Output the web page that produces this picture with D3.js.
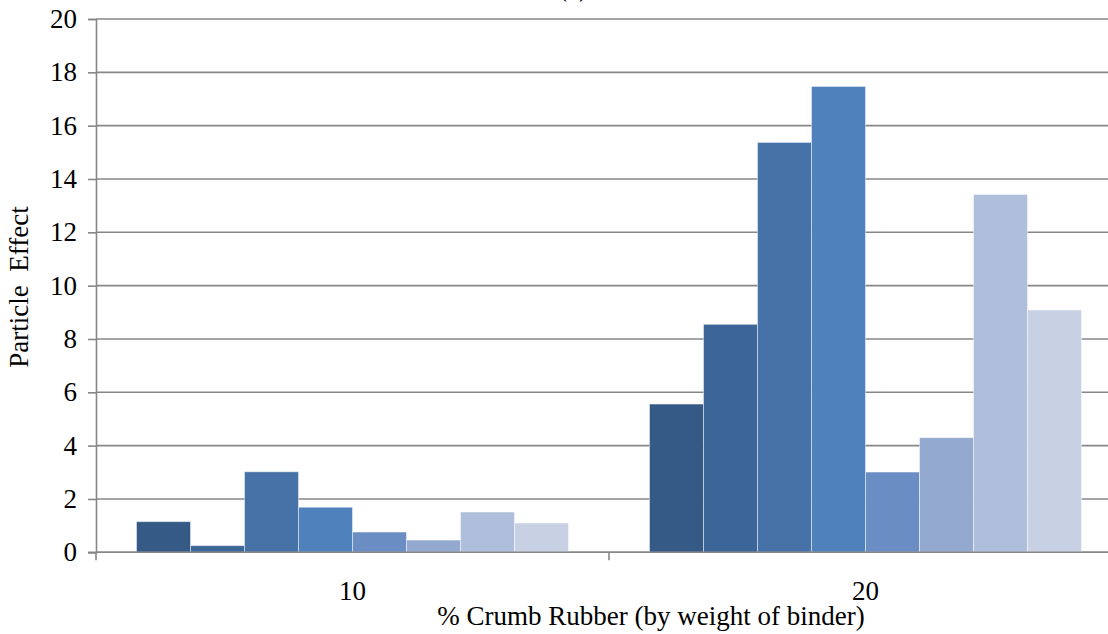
<!DOCTYPE html>
<html>
<head>
<meta charset="utf-8">
<script src="https://cdn.jsdelivr.net/npm/d3@7/dist/d3.min.js"></script>
<style>
  html, body { margin: 0; padding: 0; background: #fff; }
  svg { display: block; }
  text { font-family: "Liberation Serif", "Times New Roman", serif; fill: #000; }
</style>
</head>
<body>
<svg id="chart" width="1108" height="634"></svg>
<script>
// Crumb rubber content (% by weight of binder)
const categories = ["10", "20"];
// Eight particle series, one value per rubber content
const seriesNames = ["S1", "S2", "S3", "S4", "S5", "S6", "S7", "S8"];
const valuesAt10 = [1.15, 0.25, 3.02, 1.69, 0.76, 0.46, 1.51, 1.10];
const valuesAt20 = [5.56, 8.55, 15.37, 17.47, 3.01, 4.30, 13.42, 9.09];
const seriesColors = ["#365a86", "#3d6698", "#4672a7", "#4f81bd",
                      "#6a8ec3", "#94a9cf", "#afbfdb", "#c8d0e3"];
const yTicks = [0, 2, 4, 6, 8, 10, 12, 14, 16, 18, 20];

const valuesByCategory = [valuesAt10, valuesAt20];
const fontSize = 27;

const svg = d3.select("#chart");
const plotLeft = 96, plotTop = 19, plotBottom = 552.3, plotRight = 1122;

const x = d3.scaleBand().domain(categories).range([plotLeft, plotRight]).paddingInner(0).paddingOuter(0);
const x1 = d3.scaleBand().domain(seriesNames).range([0, x.bandwidth()])
  .paddingInner(0).paddingOuter(0.75);
const y = d3.scaleLinear().domain([0, 20]).range([plotBottom, plotTop]);

// Horizontal gridlines
svg.append("g")
  .selectAll("line")
  .data(yTicks)
  .join("line")
  .attr("x1", plotLeft).attr("x2", plotRight)
  .attr("y1", d => y(d)).attr("y2", d => y(d))
  .attr("stroke", "#878787").attr("stroke-width", 1.6);

// Bars
const groups = svg.append("g")
  .selectAll("g")
  .data(categories)
  .join("g")
  .attr("transform", d => `translate(${x(d)},0)`);

groups.selectAll("rect")
  .data((c, ci) => seriesNames.map((s, si) => ({ s, si, v: valuesByCategory[ci][si] })))
  .join("rect")
  .attr("x", d => x1(d.s))
  .attr("width", x1.bandwidth())
  .attr("y", d => y(d.v))
  .attr("height", d => y(0) - y(d.v))
  .attr("fill", d => seriesColors[d.si])
  .attr("stroke", "rgba(255,255,255,0.45)")
  .attr("stroke-width", 1);

// Y axis
const yAxis = svg.append("g")
  .attr("transform", `translate(${plotLeft},0)`)
  .call(d3.axisLeft(y).tickValues(yTicks).tickSize(8).tickPadding(11).tickFormat(d3.format("d")));
yAxis.attr("font-family", null).attr("font-size", null);
yAxis.select(".domain").attr("stroke", "#878787").attr("stroke-width", 1.6);
yAxis.selectAll(".tick line").attr("stroke", "#878787").attr("stroke-width", 1.6);
yAxis.selectAll(".tick text").attr("font-size", fontSize).attr("fill", "#000");

// X axis baseline with boundary ticks between categories
svg.append("line")
  .attr("x1", plotLeft - 8).attr("x2", plotRight)
  .attr("y1", plotBottom).attr("y2", plotBottom)
  .attr("stroke", "#878787").attr("stroke-width", 1.6);
const boundaries = categories.map(c => x(c)).concat([x(categories[categories.length - 1]) + x.bandwidth()]);
svg.append("g")
  .selectAll("line")
  .data(boundaries)
  .join("line")
  .attr("x1", d => d).attr("x2", d => d)
  .attr("y1", plotBottom).attr("y2", plotBottom + 8)
  .attr("stroke", "#878787").attr("stroke-width", 1.6);

// Category labels
svg.append("g")
  .selectAll("text")
  .data(categories)
  .join("text")
  .attr("x", d => x(d) + x.bandwidth() / 2)
  .attr("y", 600)
  .attr("text-anchor", "middle")
  .attr("font-size", fontSize)
  .text(d => d);

// Axis titles
svg.append("text")
  .attr("x", 651).attr("y", 625)
  .attr("text-anchor", "middle")
  .attr("font-size", fontSize)
  .text("% Crumb Rubber (by weight of binder)");

svg.append("text")
  .attr("transform", "translate(28,287) rotate(-90)")
  .attr("text-anchor", "middle")
  .attr("font-size", fontSize)
  .attr("xml:space", "preserve")
  .style("white-space", "pre")
  .text("Particle  Effect");

// Chart title (sits at the very top edge)
svg.append("text")
  .attr("x", 573).attr("y", -4)
  .attr("text-anchor", "middle")
  .attr("font-size", fontSize)
  .text("(a)");
</script>
</body>
</html>
